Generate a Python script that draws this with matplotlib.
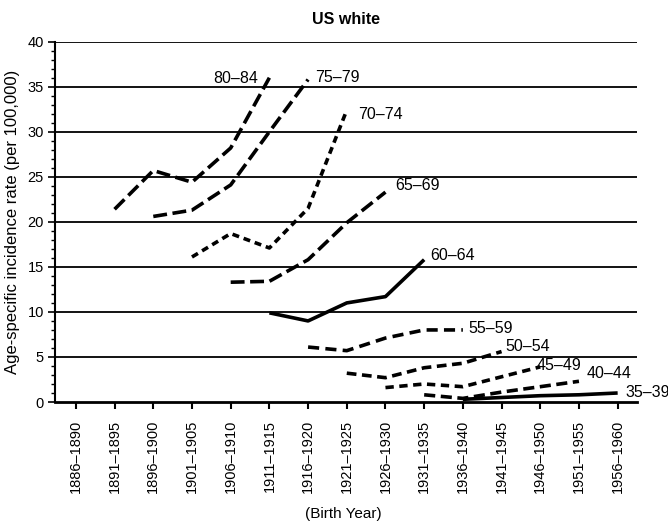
import matplotlib
matplotlib.use("Agg")
import matplotlib.pyplot as plt

plt.rcParams['font.family'] = ['Liberation Sans', 'DejaVu Sans']
plt.rcParams['lines.scale_dashes'] = False

cohorts = ["1886–1890", "1891–1895", "1896–1900", "1901–1905", "1906–1910",
           "1911–1915", "1916–1920", "1921–1925", "1926–1930", "1931–1935",
           "1936–1940", "1941–1945", "1946–1950", "1951–1955", "1956–1960"]

age_groups = ["80–84", "75–79", "70–74", "65–69", "60–64",
              "55–59", "50–54", "45–49", "40–44", "35–39"]
start_index = [1, 2, 3, 4, 5, 6, 7, 8, 9, 10]

rate_80_84 = [21.4, 25.7, 24.4, 28.2, 36.0]
rate_75_79 = [20.6, 21.3, 24.1, 30.0, 35.8]
rate_70_74 = [16.1, 18.7, 17.1, 21.5, 32.4]
rate_65_69 = [13.3, 13.4, 15.8, 19.9, 23.3]
rate_60_64 = [9.9, 9.0, 11.0, 11.7, 15.8]
rate_55_59 = [6.1, 5.7, 7.1, 8.0, 8.0]
rate_50_54 = [3.2, 2.7, 3.8, 4.3, 5.6]
rate_45_49 = [1.6, 2.0, 1.7, 2.8, 3.9]
rate_40_44 = [0.8, 0.4, 1.1, 1.7, 2.3]
rate_35_39 = [0.3, 0.5, 0.7, 0.8, 1.0]

rates = [rate_80_84, rate_75_79, rate_70_74, rate_65_69, rate_60_64,
         rate_55_59, rate_50_54, rate_45_49, rate_40_44, rate_35_39]

styles = [(0, (10, 4)), (0, (10, 4)), (0, (5, 3.5)), (0, (10, 4)), '-',
          (0, (8, 4.5)), (0, (7, 4)), (0, (6, 4)), (0, (8, 4)), '-']

label_pos = [(3.54, 35.9), (6.18, 36.0), (7.29, 31.9), (8.24, 24.0), (9.15, 16.3),
             (10.13, 8.2), (11.09, 6.2), (11.91, 4.0), (13.2, 3.2), (14.19, 1.0)]

fig = plt.figure(figsize=(6.68, 5.28), dpi=100)
ax = fig.add_axes([55/668, 1-402/528, (637-55)/668, (402-41.7)/528])

for y in range(5, 45, 5):
    ax.axhline(y, color='black', lw=1.3, zorder=1)

for name, s0, vals, ls, (lx, ly) in zip(age_groups, start_index, rates, styles, label_pos):
    xs = list(range(s0, s0 + len(vals)))
    ax.plot(xs, vals, color='black', lw=2.6, linestyle=ls, zorder=3,
            solid_capstyle='butt', dash_capstyle='butt', clip_on=False)
    ax.text(lx, ly, name, fontsize=11.5, va='center', ha='left', clip_on=False)

ax.set_xlim(-0.54, 14.5)
ax.set_ylim(0, 40)
ax.set_xticks(range(len(cohorts)))
ax.set_xticklabels(cohorts, rotation=90, fontsize=10.5)
ax.set_yticks(range(0, 45, 5))
ax.set_yticks(range(0, 41, 1), minor=True)
ax.tick_params(axis='y', which='major', length=5, width=1.2, labelsize=10.5, pad=3)
ax.tick_params(axis='y', which='minor', length=3, width=1)
ax.tick_params(axis='x', which='major', length=5, width=1.5, pad=8)

for side in ['top', 'right']:
    ax.spines[side].set_visible(False)
ax.spines['left'].set_linewidth(1.5)
ax.spines['bottom'].set_linewidth(2)

ax.set_title("US white", fontsize=11.5, fontweight='bold', pad=13)
ax.set_ylabel("Age-specific incidence rate (per 100,000)", fontsize=12)
ax.yaxis.set_label_coords(-0.060, 0.5)
fig.text(343/668, 1-514/528, "(Birth Year)", fontsize=11, ha='center', va='center')

fig.savefig("out.png", dpi=100)
